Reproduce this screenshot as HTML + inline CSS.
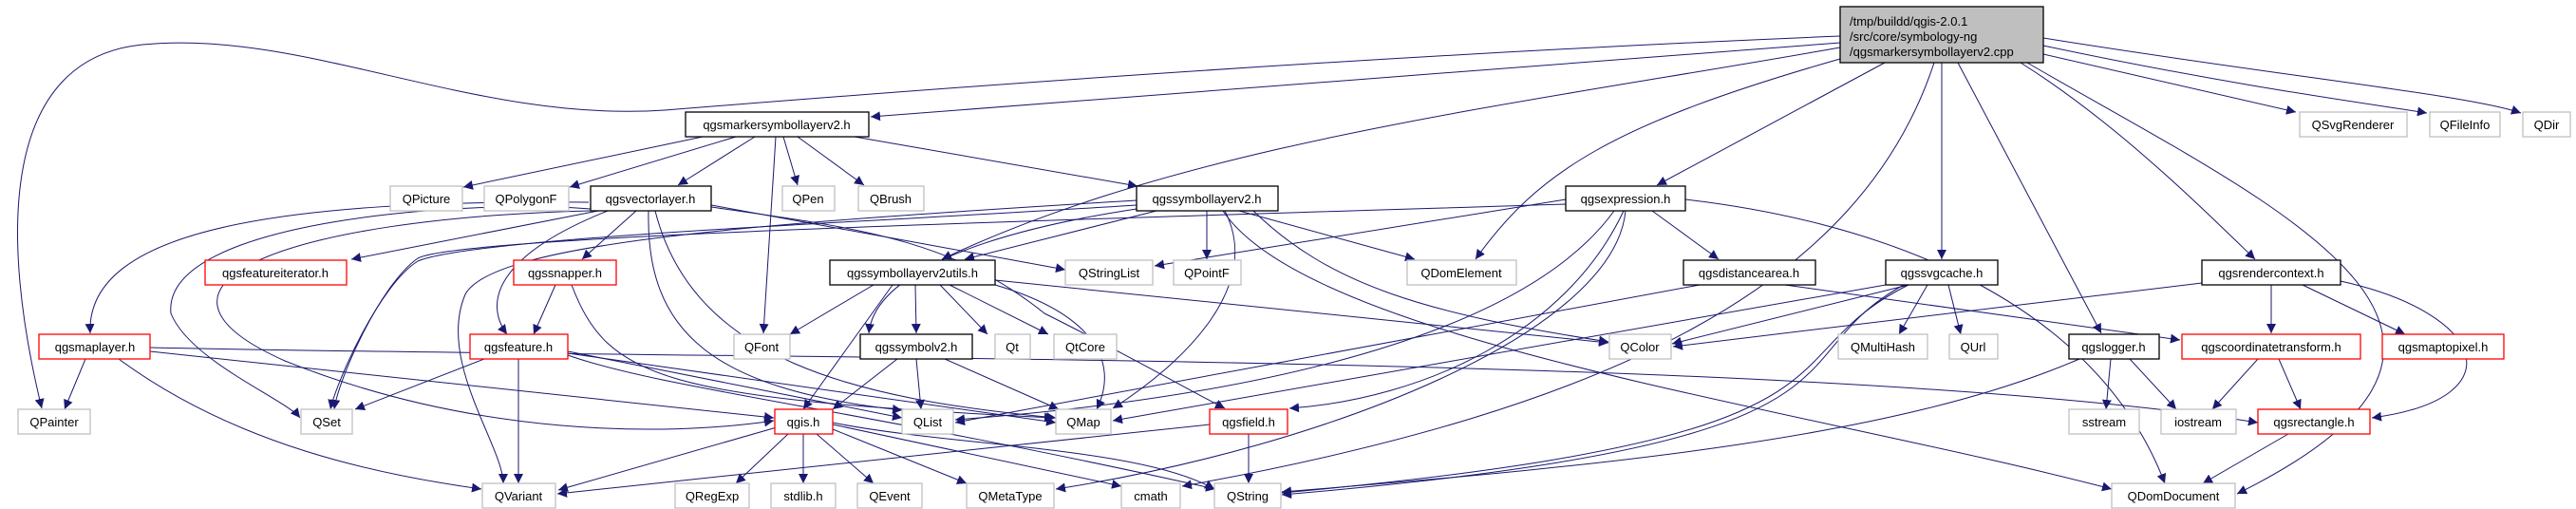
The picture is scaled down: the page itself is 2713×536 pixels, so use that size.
<!DOCTYPE html>
<html><head><meta charset="utf-8"><style>
html,body{margin:0;padding:0;background:#fff;}
svg{display:block}
text{font-family:"Liberation Sans",sans-serif;font-size:13px;}
</style></head><body>
<svg width="2713" height="536" viewBox="0 0 2713 536" xmlns="http://www.w3.org/2000/svg">
<defs>
<marker id="a" viewBox="0 0 10 10" refX="10" refY="5" markerWidth="10" markerHeight="10" markerUnits="userSpaceOnUse" orient="auto">
<path d="M0,0 L10,5 L0,10 z" fill="#191970"/></marker>
</defs>
<g fill="none" stroke="#191970" stroke-width="1" marker-end="url(#a)">
<path d="M1938,38 C1400,60 900,100 700,116 C500,130 320,30 150,47 C0,62 0,250 44,430"/>
<path d="M1938,45 L917,123"/>
<path d="M1938,50 C1600,110 1250,150 992,273"/>
<path d="M1938,62 C1700,130 1620,180 1554,273"/>
<path d="M1985,66 L1745,195"/>
<path d="M2037,66 C1960,300 1700,430 1245,512"/>
<path d="M2045,66 L2045,273"/>
<path d="M2062,66 L2213,351"/>
<path d="M2128,66 C2230,130 2320,220 2375,273"/>
<path d="M2135,66 C2400,220 2700,350 2356,520"/>
<path d="M2152,57 L2418,118"/>
<path d="M2152,48 C2350,90 2500,110 2556,119"/>
<path d="M2152,40 C2400,80 2600,100 2655,119"/>
<path d="M740,144 L488,197"/>
<path d="M775,144 L600,197"/>
<path d="M795,144 L714,195"/>
<path d="M817,144 L804,351"/>
<path d="M825,144 L840,195"/>
<path d="M840,144 L910,195"/>
<path d="M900,144 L1198,196"/>
<path d="M620,213 C300,210 90,240 95,351"/>
<path d="M630,222 L370,273"/>
<path d="M670,222 L613,273"/>
<path d="M640,222 C520,270 510,320 534,352"/>
<path d="M622,220 C500,210 170,230 180,330 C200,380 300,420 316,440"/>
<path d="M622,222 C300,230 120,300 300,380 C500,460 700,460 815,443"/>
<path d="M683,222 C680,350 750,410 950,432"/>
<path d="M690,222 C730,380 900,420 1112,440"/>
<path d="M749,216 L1122,284"/>
<path d="M749,218 C900,240 1000,250 1100,330 C1200,380 1250,410 1290,430"/>
<path d="M1197,211 C800,235 520,255 490,310 C460,380 530,470 530,509"/>
<path d="M1197,216 C900,235 500,250 440,275 C400,300 355,400 348,431"/>
<path d="M1218,222 L1016,273"/>
<path d="M1197,220 C1000,250 920,300 915,351"/>
<path d="M1271,222 L1271,273"/>
<path d="M1305,222 L1490,273"/>
<path d="M1320,222 C1400,300 1500,330 1694,360"/>
<path d="M1290,222 C1330,300 1250,380 1172,430"/>
<path d="M1288,222 C1380,360 1900,430 2224,515"/>
<path d="M1649,210 L1216,280"/>
<path d="M1649,215 C1000,235 480,250 440,272 C400,300 356,400 352,431"/>
<path d="M1740,222 L1810,273"/>
<path d="M1700,222 C1600,360 1300,420 1006,442"/>
<path d="M1710,222 C1650,350 1500,420 1358,430"/>
<path d="M1712,222 C1700,350 1400,470 1112,515"/>
<path d="M1775,210 C1950,230 2200,300 2280,509"/>
<path d="M990,300 L1040,352"/>
<path d="M1000,300 L1104,352"/>
<path d="M964,300 L965,351"/>
<path d="M920,300 L832,352"/>
<path d="M940,300 L846,431"/>
<path d="M1048,295 L1694,361"/>
<path d="M1048,300 C1150,330 1180,380 1155,431"/>
<path d="M585,300 L562,352"/>
<path d="M602,300 C640,400 700,420 1110,440"/>
<path d="M510,378 L374,431"/>
<path d="M546,378 L546,509"/>
<path d="M598,370 L950,440"/>
<path d="M598,372 L1112,445"/>
<path d="M598,374 C700,410 900,430 1280,515"/>
<path d="M90,378 L68,431"/>
<path d="M125,378 C250,470 400,500 507,515"/>
<path d="M158,370 L815,440"/>
<path d="M158,366 C800,380 1900,370 2378,445"/>
<path d="M965,378 L970,431"/>
<path d="M995,378 L1115,431"/>
<path d="M945,378 L877,431"/>
<path d="M818,450 L588,516"/>
<path d="M830,457 L775,509"/>
<path d="M846,457 L846,509"/>
<path d="M860,457 L920,509"/>
<path d="M877,452 L1018,509"/>
<path d="M877,447 L1181,512"/>
<path d="M877,445 C1000,470 1200,470 1279,515"/>
<path d="M1315,457 L1315,509"/>
<path d="M1274,447 L587,520"/>
<path d="M1790,300 L1006,445"/>
<path d="M1880,300 L2296,358"/>
<path d="M2010,300 L1761,362"/>
<path d="M2030,300 L2000,352"/>
<path d="M2052,300 L2065,352"/>
<path d="M1986,300 L1172,443"/>
<path d="M2010,300 C1850,380 2000,460 1350,519"/>
<path d="M2005,300 C1860,380 2010,465 1350,521"/>
<path d="M2319,298 L1762,365"/>
<path d="M2392,300 L2392,351"/>
<path d="M2425,300 L2533,352"/>
<path d="M2465,296 C2620,330 2650,420 2498,440"/>
<path d="M2223,378 L2218,431"/>
<path d="M2243,378 L2292,431"/>
<path d="M2190,378 C2000,460 1700,490 1350,518"/>
<path d="M2378,378 L2330,431"/>
<path d="M2400,378 L2423,431"/>
<path d="M2410,457 L2320,509"/>
</g>
<g stroke-width="1.3">
<rect x="1938" y="7" width="214" height="59" fill="#bfbfbf" stroke="#000"/>
</g>
<g font-size="13">
<text x="1948" y="27">/tmp/buildd/qgis-2.0.1</text>
<text x="1948" y="43">/src/core/symbology-ng</text>
<text x="1948" y="59">/qgsmarkersymbollayerv2.cpp</text>
</g>
<g fill="#fff" stroke-width="1.3">
<g stroke="#000">
<rect x="722" y="118" width="193" height="26"/>
<rect x="622" y="196" width="127" height="26"/>
<rect x="1197" y="196" width="149" height="26"/>
<rect x="1649" y="196" width="126" height="26"/>
<rect x="874" y="274" width="174" height="26"/>
<rect x="1773" y="274" width="139" height="26"/>
<rect x="1986" y="274" width="118" height="26"/>
<rect x="2319" y="274" width="146" height="26"/>
<rect x="906" y="352" width="118" height="26"/>
<rect x="2179" y="352" width="95" height="26"/>
</g>
<g stroke="#ff0000">
<rect x="216" y="274" width="149" height="26"/>
<rect x="541" y="274" width="108" height="26"/>
<rect x="41" y="352" width="117" height="26"/>
<rect x="495" y="352" width="103" height="26"/>
<rect x="2298" y="352" width="188" height="26"/>
<rect x="2509" y="352" width="128" height="26"/>
<rect x="816" y="431" width="61" height="26"/>
<rect x="1274" y="431" width="82" height="26"/>
<rect x="2378" y="431" width="118" height="26"/>
</g>
<g stroke="#bfbfbf">
<rect x="2422" y="118" width="113" height="26"/>
<rect x="2559" y="118" width="74" height="26"/>
<rect x="2657" y="118" width="50" height="26"/>
<rect x="411" y="196" width="76" height="26"/>
<rect x="510" y="196" width="89" height="26"/>
<rect x="824" y="196" width="55" height="26"/>
<rect x="904" y="196" width="69" height="26"/>
<rect x="1122" y="274" width="92" height="26"/>
<rect x="1236" y="274" width="71" height="26"/>
<rect x="1482" y="274" width="115" height="26"/>
<rect x="773" y="352" width="59" height="26"/>
<rect x="1048" y="352" width="37" height="26"/>
<rect x="1110" y="352" width="66" height="26"/>
<rect x="1695" y="352" width="65" height="26"/>
<rect x="1936" y="352" width="94" height="26"/>
<rect x="2053" y="352" width="51" height="26"/>
<rect x="19" y="431" width="76" height="26"/>
<rect x="317" y="431" width="54" height="26"/>
<rect x="950" y="431" width="54" height="26"/>
<rect x="1112" y="431" width="58" height="26"/>
<rect x="2179" y="431" width="74" height="26"/>
<rect x="2276" y="431" width="79" height="26"/>
<rect x="508" y="509" width="77" height="26"/>
<rect x="711" y="509" width="78" height="26"/>
<rect x="812" y="509" width="68" height="26"/>
<rect x="903" y="509" width="68" height="26"/>
<rect x="1018" y="509" width="92" height="26"/>
<rect x="1181" y="509" width="62" height="26"/>
<rect x="1279" y="509" width="70" height="26"/>
<rect x="2224" y="509" width="130" height="26"/>
</g>
</g>
<g text-anchor="middle" fill="#000">
<text x="818" y="136">qgsmarkersymbollayerv2.h</text>
<text x="2478" y="136">QSvgRenderer</text>
<text x="2596" y="136">QFileInfo</text>
<text x="2682" y="136">QDir</text>
<text x="449" y="214">QPicture</text>
<text x="554" y="214">QPolygonF</text>
<text x="685" y="214">qgsvectorlayer.h</text>
<text x="851" y="214">QPen</text>
<text x="938" y="214">QBrush</text>
<text x="1271" y="214">qgssymbollayerv2.h</text>
<text x="1712" y="214">qgsexpression.h</text>
<text x="290" y="292">qgsfeatureiterator.h</text>
<text x="595" y="292">qgssnapper.h</text>
<text x="961" y="292">qgssymbollayerv2utils.h</text>
<text x="1168" y="292">QStringList</text>
<text x="1271" y="292">QPointF</text>
<text x="1539" y="292">QDomElement</text>
<text x="1842" y="292">qgsdistancearea.h</text>
<text x="2045" y="292">qgssvgcache.h</text>
<text x="2392" y="292">qgsrendercontext.h</text>
<text x="100" y="370">qgsmaplayer.h</text>
<text x="546" y="370">qgsfeature.h</text>
<text x="802" y="370">QFont</text>
<text x="965" y="370">qgssymbolv2.h</text>
<text x="1066" y="370">Qt</text>
<text x="1143" y="370">QtCore</text>
<text x="1727" y="370">QColor</text>
<text x="1983" y="370">QMultiHash</text>
<text x="2078" y="370">QUrl</text>
<text x="2226" y="370">qgslogger.h</text>
<text x="2392" y="370">qgscoordinatetransform.h</text>
<text x="2573" y="370">qgsmaptopixel.h</text>
<text x="57" y="449">QPainter</text>
<text x="344" y="449">QSet</text>
<text x="846" y="449">qgis.h</text>
<text x="977" y="449">QList</text>
<text x="1141" y="449">QMap</text>
<text x="1315" y="449">qgsfield.h</text>
<text x="2216" y="449">sstream</text>
<text x="2315" y="449">iostream</text>
<text x="2437" y="449">qgsrectangle.h</text>
<text x="546" y="527">QVariant</text>
<text x="750" y="527">QRegExp</text>
<text x="846" y="527">stdlib.h</text>
<text x="937" y="527">QEvent</text>
<text x="1064" y="527">QMetaType</text>
<text x="1212" y="527">cmath</text>
<text x="1314" y="527">QString</text>
<text x="2289" y="527">QDomDocument</text>
</g>
</svg>
</body></html>
